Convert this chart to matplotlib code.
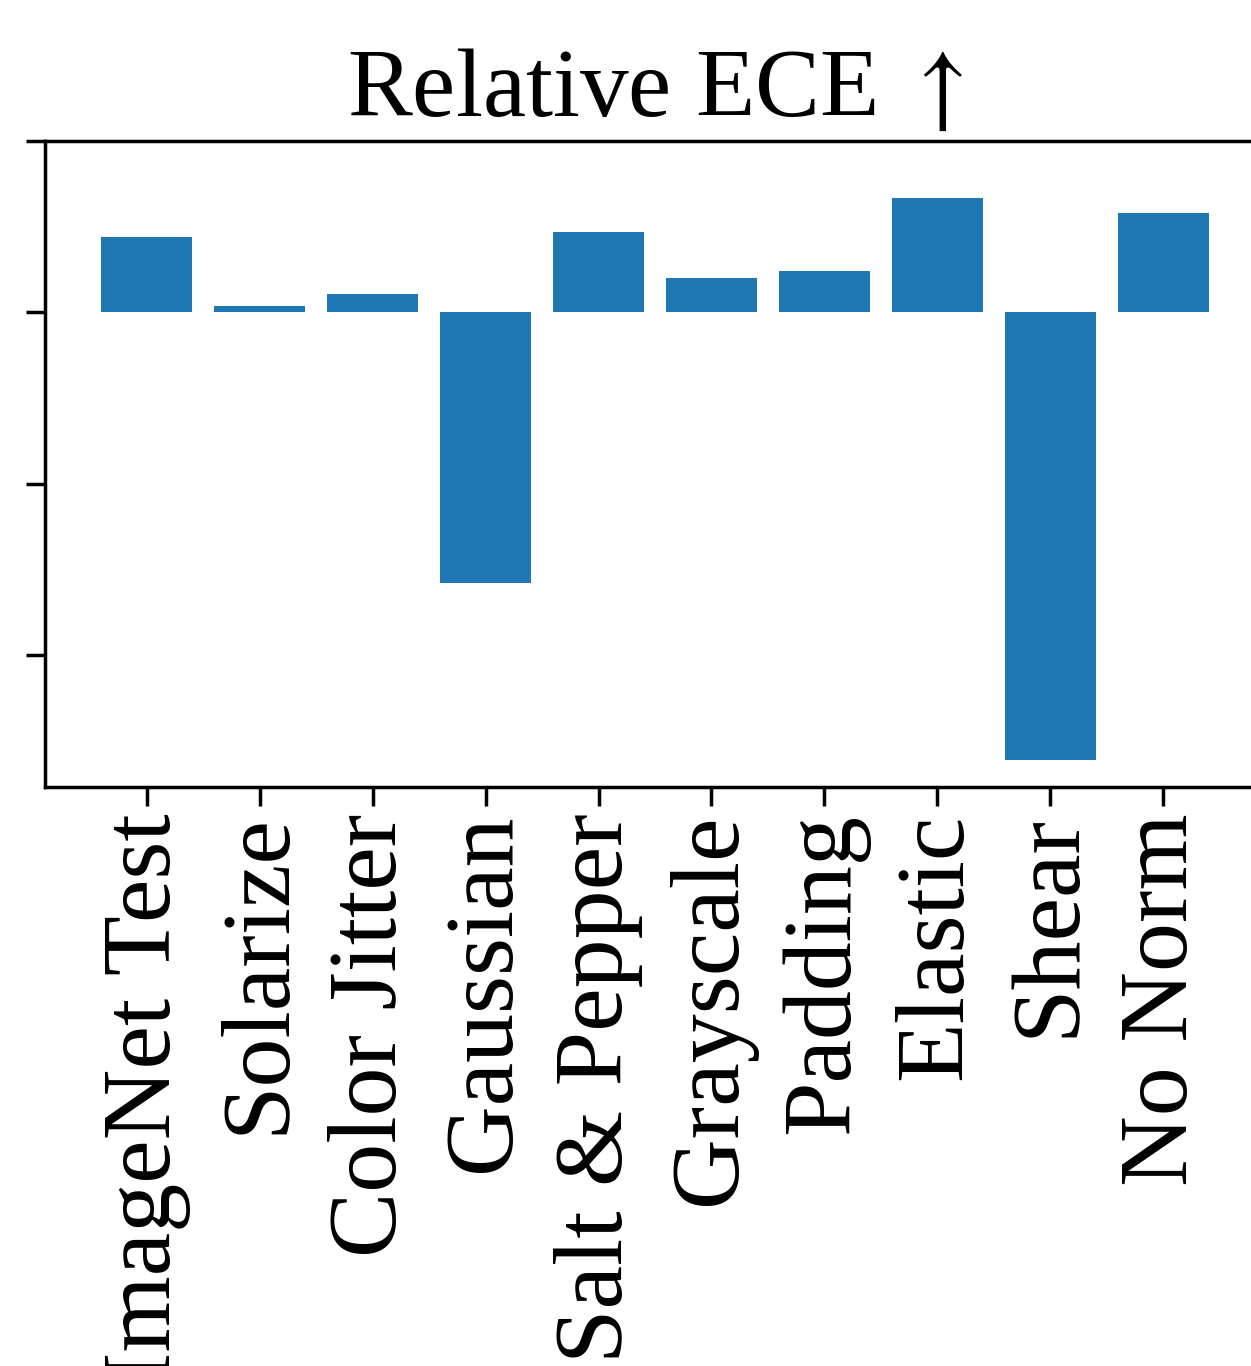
import matplotlib
matplotlib.use("Agg")
import matplotlib.pyplot as plt

plt.rcParams['font.family'] = ['Liberation Serif', 'DejaVu Serif']
plt.rcParams['mathtext.fontset'] = 'stix'

# Relative ECE per transformation (units of one y-tick step)
categories = ["ImageNet Test", "Solarize", "Color Jitter", "Gaussian", "Salt & Pepper",
              "Grayscale", "Padding", "Elastic", "Shear", "No Norm"]
values = [0.44, 0.035, 0.105, -1.58, 0.47, 0.20, 0.24, 0.665, -2.61, 0.58]
yticks = [1, 0, -1, -2]

W, H = 1251, 1366
fig = plt.figure(figsize=(W / 100, H / 100), dpi=100)
ax = fig.add_axes([45 / W, 579 / H, 1220 / W, 646 / H])

ax.bar(range(len(categories)), values, width=0.8, color="#1f77b4")

ax.set_xlim(-0.9, 9.9)
ax.set_ylim(-2.77, 1.0)
ax.set_yticks(yticks)
ax.set_yticklabels([])
ax.set_xticks(range(len(categories)))
ax.set_xticklabels(categories, rotation=90, fontsize=70.5)
ax.tick_params(length=14, width=2.5, pad=5)
for s in ax.spines.values():
    s.set_linewidth(2.5)

ax.set_title("Relative ECE $\\uparrow$", fontsize=70, pad=18)

fig.savefig("out.png", dpi=100)
